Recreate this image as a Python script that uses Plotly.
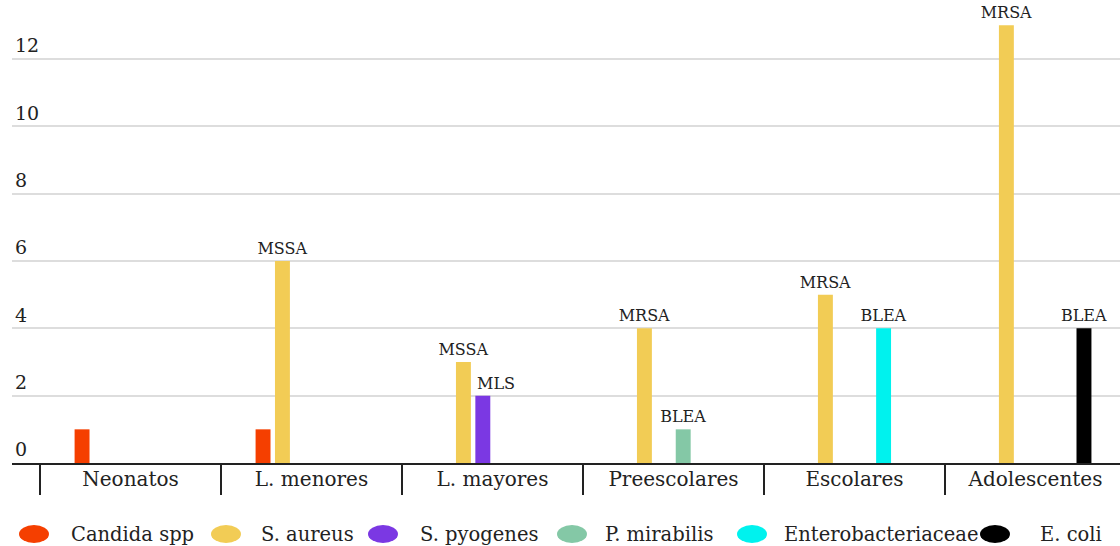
import plotly.graph_objects as go

# Age groups on the x axis
groups = ["Neonatos", "L. menores", "L. mayores", "Preescolares", "Escolares", "Adolescentes"]

# Isolates per organism and age group (None = not isolated)
candida = [1, 1, None, None, None, None]
s_aureus = [None, 6, 3, 4, 5, 13]
s_pyogenes = [None, None, 2, None, None, None]
p_mirabilis = [None, None, None, 1, None, None]
enterobacteriaceae = [None, None, None, None, 4, None]
e_coli = [None, None, None, None, None, 4]

# Resistance-profile labels shown above the bars
s_aureus_text = ["", "MSSA", "MSSA", "MRSA", "MRSA", "MRSA"]
p_mirabilis_text = ["", "", "", "BLEA", "", ""]
entero_text = ["", "", "", "", "BLEA", ""]
e_coli_text = ["", "", "", "", "", "BLEA"]

series = [
    ("Candida spp", candida, None, "#F53F00"),
    ("S. aureus", s_aureus, s_aureus_text, "#F2CC55"),
    ("S. pyogenes", s_pyogenes, None, "#7B38E3"),
    ("P. mirabilis", p_mirabilis, p_mirabilis_text, "#84C8A6"),
    ("Enterobacteriaceae", enterobacteriaceae, entero_text, "#00F2EE"),
    ("E. coli", e_coli, e_coli_text, "#000000"),
]

FONT = "DejaVu Serif"
INK = "#222222"

fig = go.Figure()
for name, vals, txt, color in series:
    fig.add_trace(go.Bar(
        name=name, x=groups, y=vals, marker=dict(color=color, line=dict(width=0)),
        text=txt, textposition="outside", cliponaxis=False, constraintext="none",
        textfont=dict(family=FONT, size=16, color=INK),
        showlegend=False,
    ))

# MLS label sits slightly right of the S. pyogenes bar to clear the S. aureus bar
fig.add_annotation(x="L. mayores", y=s_pyogenes[2], text="MLS", showarrow=False,
                   xanchor="center", yanchor="bottom", xshift=3, yshift=1,
                   font=dict(family=FONT, size=16, color=INK))

# Legend row drawn as ellipses + labels
W, H = 1120, 546
L, R, T, B = 12, 0, 0, 83
pw, ph = W - L - R, H - T - B


def px_x(p):
    return (p - L) / pw


def px_y(q):
    return (H - B - q) / ph


legend_marker_x = [34, 226, 383, 572, 752, 995]
legend_text_x = [69, 259, 418, 603, 782, 1038]
legend_y = 534
for (name, _, _, color), mx, tx in zip(series, legend_marker_x, legend_text_x):
    fig.add_shape(type="circle", xref="paper", yref="paper",
                  xsizemode="pixel", ysizemode="pixel",
                  xanchor=px_x(mx), yanchor=px_y(legend_y),
                  x0=-15, x1=15, y0=-9, y1=9,
                  fillcolor=color, line=dict(width=0))
    fig.add_annotation(x=px_x(tx), y=px_y(legend_y), xref="paper", yref="paper",
                       text=name, showarrow=False, xanchor="left", yanchor="middle",
                       font=dict(family=FONT, size=19.5, color=INK))

fig.update_layout(
    width=W, height=H,
    margin=dict(l=L, r=R, t=T, b=B),
    barmode="group", bargap=0.357, bargroupgap=0.23,
    plot_bgcolor="white", paper_bgcolor="white",
    font=dict(family=FONT, size=19, color=INK),
    showlegend=False,
)
fig.update_xaxes(
    range=[-0.655, 5.467],
    showline=True, linecolor=INK, linewidth=2,
    ticks="outside", tickson="boundaries", ticklen=30, tickwidth=2, tickcolor=INK,
    ticklabelstandoff=-3,
    showgrid=False,
    tickfont=dict(family=FONT, size=20, color=INK),
)
fig.update_yaxes(
    range=[0, 13.75],
    tickvals=[0, 2, 4, 6, 8, 10, 12],
    ticklabelposition="inside top",
    showgrid=True, gridcolor="#dddddd", gridwidth=1.5,
    zeroline=False, showline=False, ticks="",
    tickfont=dict(family=FONT, size=19, color=INK),
)

fig.write_html("out.html")
